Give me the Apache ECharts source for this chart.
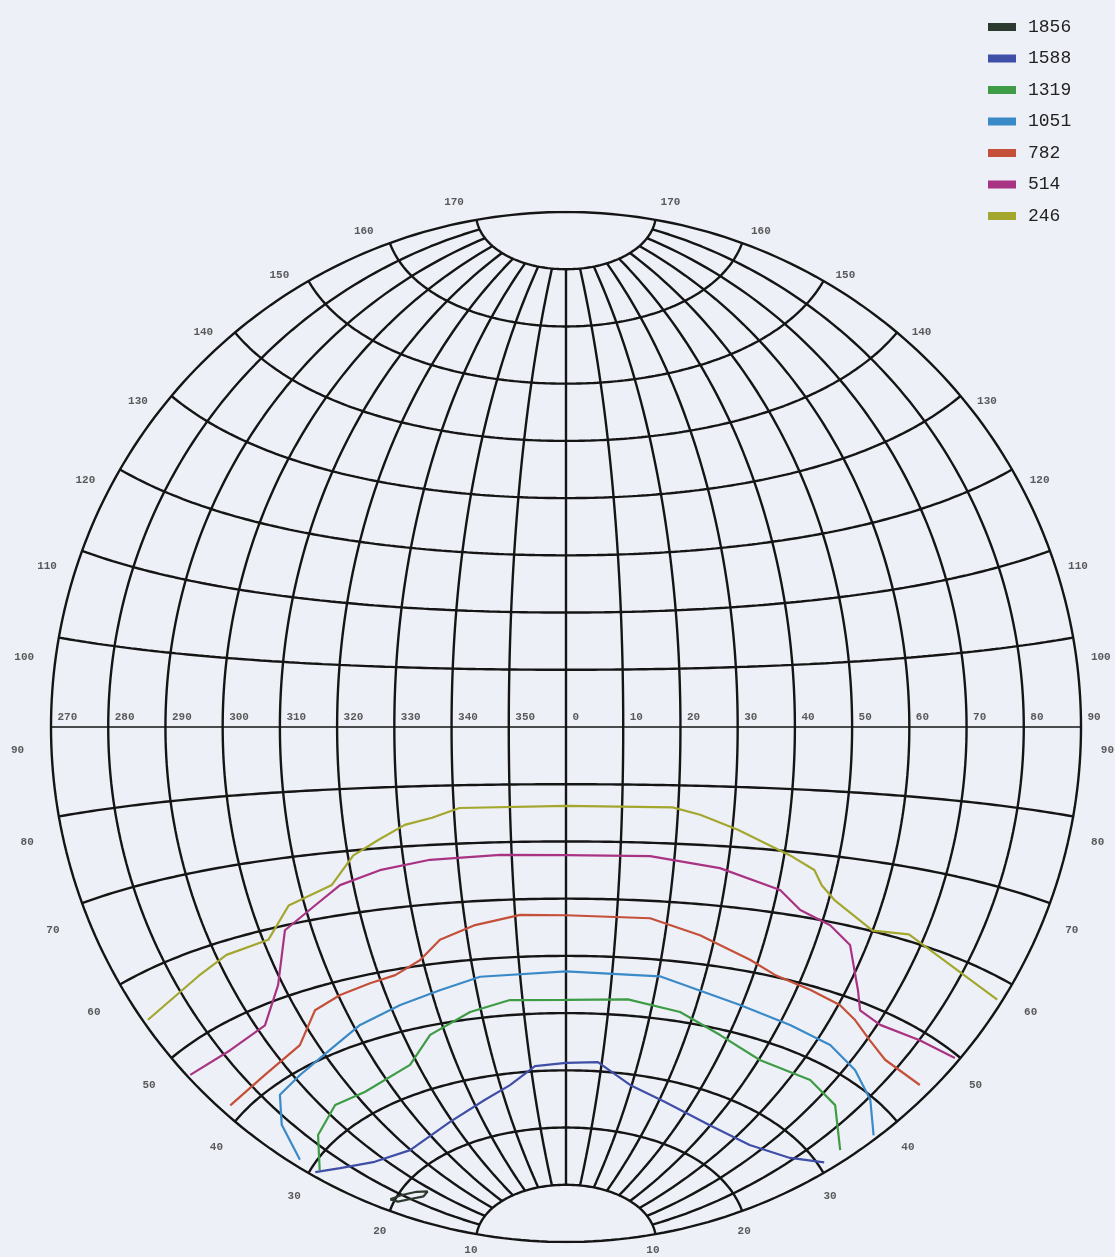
<!DOCTYPE html>
<html>
<head>
<meta charset="utf-8">
<script src="https://cdn.jsdelivr.net/npm/echarts@6/dist/echarts.min.js"></script>
<style>
html,body{margin:0;padding:0;background:#eef0f7;}
#chart{width:1115px;height:1257px;}
</style>
</head>
<body>
<div id="chart"></div>
<script>
// C-plane ticks (meridians) and gamma ticks (parallels)
const cPlanes = [270, 280, 290, 300, 310, 320, 330, 340, 350, 0, 10, 20, 30, 40, 50, 60, 70, 80, 90];
const gammas = [10, 20, 30, 40, 50, 60, 70, 80, 90, 100, 110, 120, 130, 140, 150, 160, 170];

// Isocandela levels (cd) and their colours
const levels = ['1856', '1588', '1319', '1051', '782', '514', '246'];
const levelColors = ['#2d3a2f', '#3f4ea6', '#3d9c45', '#3a8ac8', '#c4503a', '#a93383', '#a3a72e'];

// contour points: [C-plane angle, gamma angle]
const iso1856 = [[275.5, 20.5], [280, 19.6], [285, 18.4], [288, 17.4], [284.5, 17.4], [280, 18.5], [276, 19.6], [275.5, 20.5]];
const iso1588 = [[271.5, 29.4], [277.4, 27.3], [286.9, 24.7], [299.8, 23.0], [319.2, 24.2], [333.8, 26.2], [342.9, 28.0], [351.2, 30.9], [0, 31.3], [8.9, 31.6], [19.5, 28.2], [32, 26.5], [49.8, 25.3], [65.9, 25.7], [79, 27.9], [87, 30.7]];
const iso1319 = [[272.9, 29.1], [282.5, 31.9], [293.2, 33.6], [302.6, 33.2], [318, 34.6], [326.3, 38.5], [337.4, 41.2], [347.1, 42.6], [0, 42.3], [14.2, 42.8], [26.8, 41.6], [38, 39.1], [50.3, 37.1], [64.8, 37.4], [74.9, 36.4], [86.5, 33.0]];
const iso1051 = [[272.3, 31.6], [277.8, 35.8], [283.8, 38.7], [291.5, 39.4], [301.8, 40.7], [311.5, 42.7], [322.2, 44.2], [331.9, 45.5], [341.3, 47.0], [0, 47.3], [20.4, 47.2], [39.6, 44.5], [52.4, 43.5], [63.4, 42.9], [72.3, 41.5], [80.7, 39.6], [88.9, 37.0]];
const iso782 = [[272.4, 41.6], [284.5, 41.8], [296.2, 43.0], [303.7, 46.8], [310.4, 47.9], [317.6, 48.6], [323.4, 49.1], [329.4, 50.9], [334.4, 53.9], [341.9, 55.9], [351, 57.3], [0, 57.1], [16.6, 57.0], [27, 54.8], [38.3, 51.9], [44.4, 50.3], [52.8, 49.4], [60.3, 48.6], [65.1, 47.4], [70.6, 45.8], [76.5, 44.6], [87.1, 44.7]];
const iso514 = [[270.7, 47.2], [281.8, 46.7], [291.9, 47.4], [299, 51.9], [304.8, 59.3], [310.7, 61.6], [317.5, 64.7], [325.4, 66.4], [334.9, 67.5], [347.9, 67.8], [0, 67.6], [15.5, 67.7], [28.6, 66.3], [40.5, 63.7], [45.2, 61.0], [51.7, 59.5], [56.8, 57.3], [62.3, 51.4], [64.9, 48.9], [70.6, 48.2], [80.1, 48.9], [89, 49.6]];
const iso246 = [[271, 55.0], [285, 56.8], [292, 58.1], [301, 58.5], [307, 62.8], [316, 64.9], [321, 69.2], [326, 71.4], [331, 73.6], [336, 74.6], [341, 76.1], [0, 76.2], [19, 76.2], [24, 75.1], [31, 72.9], [41, 69.4], [46, 67.5], [48, 65.3], [51, 63.4], [60, 60.1], [67, 60.9], [77, 58.9], [89, 57.7]];
const isoData = [iso1856, iso1588, iso1319, iso1051, iso782, iso514, iso246];

// azimuthal equidistant projection centred on C=0, gamma=90
function proj(C, g) {
  const lam = (C > 180 ? C - 360 : C) * Math.PI / 180;
  const phi = (g - 90) * Math.PI / 180;
  let cosc = Math.cos(phi) * Math.cos(lam);
  cosc = Math.max(-1, Math.min(1, cosc));
  const c = Math.acos(cosc);
  const k = c < 1e-9 ? 1 : c / Math.sin(c);
  return [k * Math.cos(phi) * Math.sin(lam) * 180 / Math.PI, k * Math.sin(phi) * 180 / Math.PI];
}
const sgn = c => (c > 180 ? c - 360 : c);

const series = [];
const gridStyle = { color: '#151515', width: 2.4 };

// meridians
cPlanes.forEach(c => {
  const edge = Math.abs(sgn(c)) === 90;
  const g0 = edge ? 0 : 10, g1 = edge ? 180 : 170;
  const pts = [];
  for (let g = g0; g <= g1; g += 1) pts.push(proj(c, g));
  series.push({ type: 'line', data: pts, showSymbol: false, silent: true, lineStyle: gridStyle, z: 1, animation: false });
});
// parallels
gammas.forEach(g => {
  const pts = [];
  for (let c = -90; c <= 90; c += 1) pts.push(proj(c, g));
  series.push({ type: 'line', data: pts, showSymbol: false, silent: true,
    lineStyle: { color: '#151515', width: g === 90 ? 1.6 : 2.4 }, z: 1, animation: false });
});

// isocandela contours
levels.forEach((name, i) => {
  series.push({ name: name, type: 'line', data: isoData[i].map(p => proj(p[0], p[1])), showSymbol: false,
    lineStyle: { color: levelColors[i], width: 2.2 }, itemStyle: { color: levelColors[i] }, z: 3, animation: false });
});

// equator labels (C-planes)
const labelFont = { fontFamily: 'Liberation Mono', fontSize: 11, color: '#333', fontWeight: 'bold' };
series.push({
  type: 'scatter', symbolSize: 1, itemStyle: { color: 'rgba(0,0,0,0)' }, silent: true, animation: false, z: 4,
  data: cPlanes.map(c => ({ name: String(c), value: proj(c, 90) })),
  label: Object.assign({ show: true, position: [7, -15], formatter: p => p.name }, labelFont)
});
// boundary labels (gamma)
const bLabels = [];
gammas.forEach(g => {
  const phi = (g - 90) * Math.PI / 180;
  const dy = -6 + 34 * Math.cos(phi + Math.PI / 6);
  const dxL = -(10 + 25 * Math.cos(phi - Math.PI / 9));
  const dxR = 2 + 26 * Math.cos(phi - Math.PI / 9);
  bLabels.push({ name: String(g), value: proj(-90, g), label: { offset: [dxL, dy] } });
  bLabels.push({ name: String(g), value: proj(90, g), label: { offset: [dxR, dy] } });
});
series.push({
  type: 'scatter', symbolSize: 1, itemStyle: { color: 'rgba(0,0,0,0)' }, silent: true, animation: false, z: 4,
  data: bLabels,
  label: Object.assign({ show: true, position: 'inside', formatter: p => p.name }, labelFont)
});

const chart = echarts.init(document.getElementById('chart'));
chart.setOption({
  backgroundColor: '#eef0f7',
  animation: false,
  grid: { left: 51, top: 212, width: 1030, height: 1030 },
  xAxis: { type: 'value', min: -90, max: 90, show: false },
  yAxis: { type: 'value', min: -90, max: 90, show: false },
  legend: {
    data: levels, orient: 'vertical', left: 983, top: 13, icon: 'rect',
    itemWidth: 28, itemHeight: 8, itemGap: 13.5,
    textStyle: { fontFamily: 'Liberation Mono', fontSize: 18, color: '#222', padding: [0, 0, 0, 7] }
  },
  series: series
});
</script>
</body>
</html>
